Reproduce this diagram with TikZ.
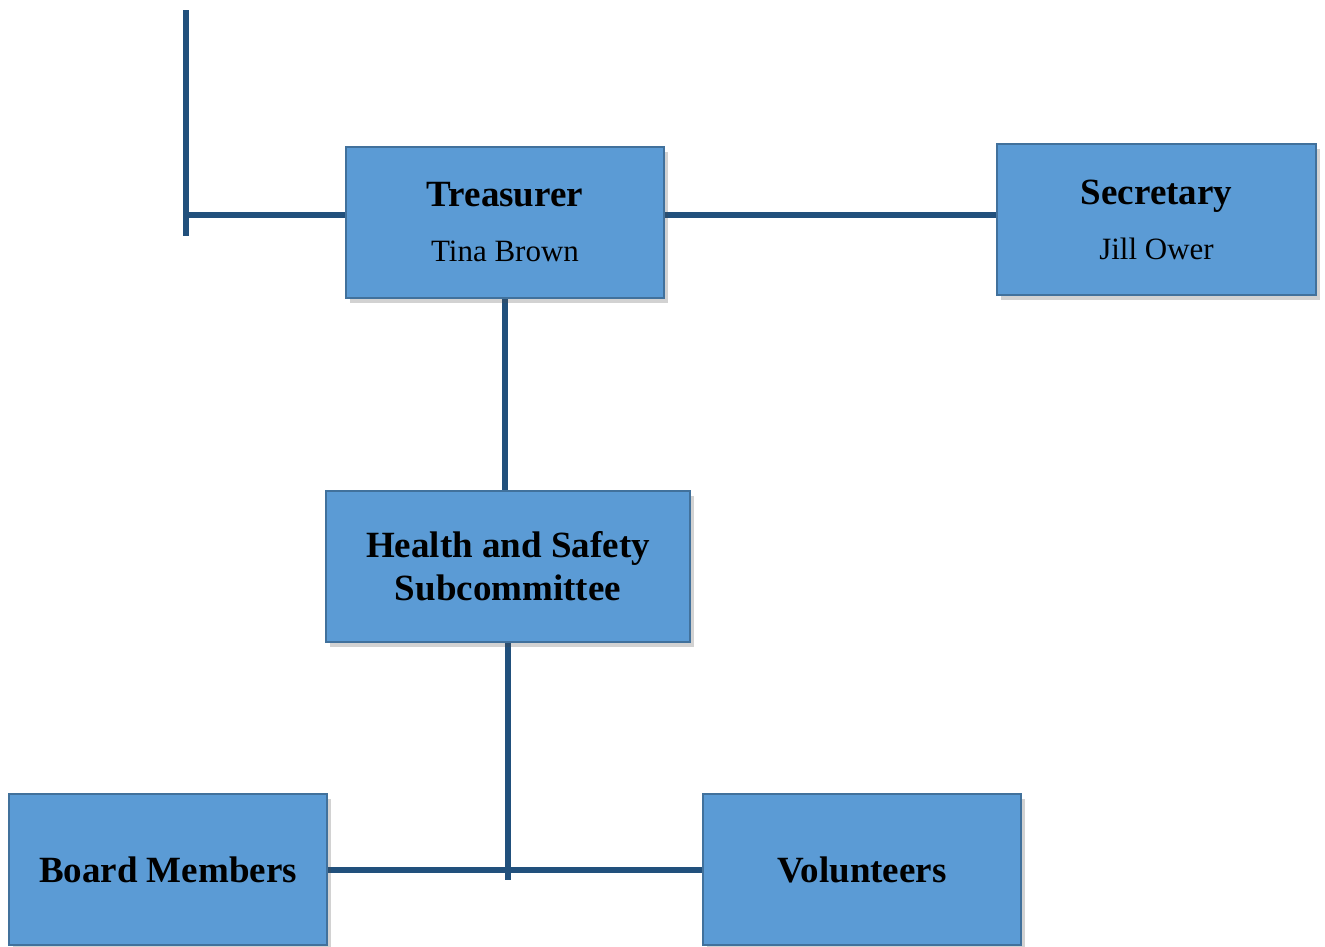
\documentclass[tikz,border=0pt]{standalone}
\usepackage{fontspec}
\setmainfont{Liberation Serif}
\usetikzlibrary{shadows,backgrounds}
\definecolor{boxfill}{HTML}{5B9BD5}
\definecolor{boxline}{HTML}{41719C}
\definecolor{conn}{HTML}{21507C}
\tikzset{
  orgbox/.style={draw=boxline, line width=2.5pt, fill=boxfill, rectangle,
    minimum height=151pt, inner sep=0pt, align=center,
    drop shadow={shadow xshift=4pt, shadow yshift=-5pt, opacity=0.25, fill=black!70}},
  ttl/.style={font=\fontsize{37}{43}\selectfont\bfseries},
  ttlsub/.style={font=\fontsize{37}{55}\selectfont\bfseries},
  conline/.style={draw=conn, line width=6pt}
}
\newcommand{\subname}[1]{\fontsize{31}{55}\selectfont\mdseries #1}
\begin{document}
\begin{tikzpicture}[x=1pt,y=-1pt]
\useasboundingbox (0,0) rectangle (1325,946);
\node[orgbox, minimum width=318pt, ttlsub] (tre) at (505,222.5)
  {Treasurer\\\subname{Tina Brown}};
\node[orgbox, minimum width=319pt, ttlsub] (sec) at (1156.5,219.5)
  {Secretary\\\subname{Jill Ower}};
\node[orgbox, minimum width=364pt, ttl] (hs) at (508,566.5)
  {Health and Safety\\Subcommittee};
\node[orgbox, minimum width=318pt, ttl] (bm) at (168,869.5) {Board Members};
\node[orgbox, minimum width=318pt, ttl] (vol) at (862,869.5) {Volunteers};
\coordinate (ltop) at (186,10);
\coordinate (lbot) at (186,236);
\coordinate (hy) at (0,215);
\coordinate (jn) at (508,880);
\begin{pgfonlayer}{background}
\draw[conline] (ltop) -- (lbot);
\draw[conline] (ltop |- hy) -- (tre.west |- hy);
\draw[conline] (tre.east |- hy) -- (sec.west |- hy);
\draw[conline] (tre.south) -- (tre.south |- hs.north);
\draw[conline] (hs.south -| jn) -- (jn);
\draw[conline] (bm.east) -- (vol.west);
\end{pgfonlayer}
\end{tikzpicture}
\end{document}
